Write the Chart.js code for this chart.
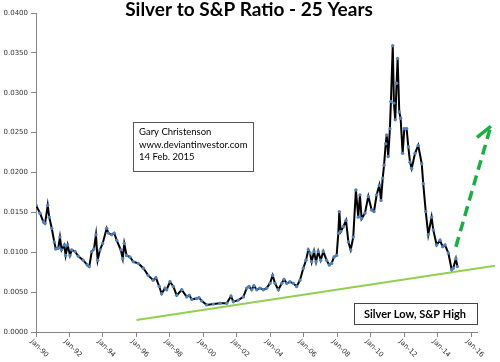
<!DOCTYPE html>
<html>
<head>
<meta charset="utf-8">
<script src="https://cdn.jsdelivr.net/npm/chart.js@4.4.1/dist/chart.umd.min.js"></script>
<style>
  body { margin: 0; background: #fff; }
  #wrap { width: 500px; height: 362px; position: relative; }
</style>
</head>
<body>
<div id="wrap"><canvas id="myChart"></canvas></div>
<script>
// silver / S&P ratio (decimal year, ratio)
var years = [1990.00, 1990.24, 1990.44, 1990.54, 1990.70, 1990.79, 1990.94, 1991.09, 1991.18, 1991.33,
  1991.43, 1991.53, 1991.69, 1991.77, 1991.89, 1992.03, 1992.13, 1992.33, 1992.53, 1992.82,
  1993.06, 1993.18, 1993.33, 1993.46, 1993.58, 1993.68, 1993.82, 1993.98, 1994.22, 1994.32,
  1994.52, 1994.67, 1994.82, 1995.06, 1995.18, 1995.27, 1995.41, 1995.61, 1995.81, 1996.11,
  1996.41, 1996.70, 1997.00, 1997.16, 1997.36, 1997.50, 1997.70, 1997.80, 1998.00, 1998.20,
  1998.40, 1998.70, 1999.00, 1999.15, 1999.30, 1999.59, 1999.73, 1999.89, 2000.19, 2000.59,
  2000.99, 2001.39, 2001.64, 2001.78, 2002.08, 2002.38, 2002.58, 2002.72, 2002.88, 2003.01,
  2003.18, 2003.37, 2003.57, 2003.77, 2003.97, 2004.13, 2004.27, 2004.47, 2004.67, 2004.81,
  2004.97, 2005.16, 2005.36, 2005.56, 2005.76, 2005.96, 2006.12, 2006.26, 2006.36, 2006.46,
  2006.60, 2006.72, 2006.85, 2007.00, 2007.15, 2007.35, 2007.51, 2007.65, 2007.79, 2007.95,
  2008.05, 2008.11, 2008.19, 2008.35, 2008.51, 2008.65, 2008.79, 2008.94, 2009.10, 2009.24,
  2009.34, 2009.44, 2009.64, 2009.84, 2010.04, 2010.18, 2010.34, 2010.50, 2010.60, 2010.70,
  2010.78, 2010.88, 2010.94, 2011.03, 2011.13, 2011.19, 2011.30, 2011.37, 2011.45, 2011.53,
  2011.59, 2011.69, 2011.77, 2011.89, 2011.99, 2012.13, 2012.23, 2012.33, 2012.43, 2012.63,
  2012.82, 2013.03, 2013.12, 2013.27, 2013.42, 2013.62, 2013.72, 2013.92, 2014.12, 2014.28,
  2014.42, 2014.62, 2014.82, 2014.91, 2015.07, 2015.16];
var ratio = [0.0159, 0.0149, 0.0138, 0.0136, 0.0159, 0.0144, 0.0130, 0.0113, 0.0104, 0.0105,
  0.0119, 0.0103, 0.0109, 0.0096, 0.0109, 0.0096, 0.0103, 0.0101, 0.0095, 0.0090,
  0.0084, 0.0082, 0.0101, 0.0104, 0.0122, 0.0090, 0.0103, 0.0111, 0.0130, 0.0124,
  0.0122, 0.0124, 0.0115, 0.0103, 0.0092, 0.0111, 0.0096, 0.0094, 0.0088, 0.0086,
  0.0080, 0.0071, 0.0065, 0.0068, 0.0057, 0.0048, 0.0055, 0.0053, 0.0063, 0.0057,
  0.0046, 0.0053, 0.0044, 0.0046, 0.0041, 0.0042, 0.0043, 0.0039, 0.0034, 0.0035,
  0.0036, 0.0036, 0.0045, 0.0038, 0.0040, 0.0044, 0.0055, 0.0057, 0.0053, 0.0058,
  0.0053, 0.0055, 0.0053, 0.0055, 0.0061, 0.0071, 0.0061, 0.0053, 0.0061, 0.0066,
  0.0061, 0.0063, 0.0061, 0.0057, 0.0065, 0.0080, 0.0090, 0.0103, 0.0099, 0.0088,
  0.0101, 0.0088, 0.0101, 0.0090, 0.0101, 0.0090, 0.0084, 0.0086, 0.0094, 0.0096,
  0.0124, 0.0151, 0.0126, 0.0132, 0.0140, 0.0113, 0.0103, 0.0119, 0.0178, 0.0144,
  0.0172, 0.0142, 0.0149, 0.0170, 0.0153, 0.0151, 0.0172, 0.0184, 0.0165, 0.0193,
  0.0209, 0.0236, 0.0247, 0.0220, 0.0255, 0.0289, 0.0359, 0.0287, 0.0266, 0.0312,
  0.0343, 0.0276, 0.0268, 0.0224, 0.0255, 0.0255, 0.0232, 0.0213, 0.0205, 0.0224,
  0.0234, 0.0211, 0.0186, 0.0151, 0.0122, 0.0144, 0.0128, 0.0109, 0.0115, 0.0107,
  0.0109, 0.0099, 0.0078, 0.0080, 0.0092, 0.0082];

// green support line and dashed arrow
var trendX = [1996.0, 2017.4];
var trendY = [0.0015, 0.0083];
var arrowX = [2015.07, 2017.10];
var arrowY = [0.0107, 0.0254];
var headX = [2016.33, 2017.16, 2017.58];
var headY = [0.0244, 0.0258, 0.0238];

var yTicks = [0, 0.005, 0.01, 0.015, 0.02, 0.025, 0.03, 0.035, 0.04];
var xTicks = [1990, 1992, 1994, 1996, 1998, 2000, 2002, 2004, 2006, 2008, 2010, 2012, 2014, 2016];

var titleText = 'Silver to S&P Ratio - 25 Years';
var noteLines = ['Gary Christenson', 'www.deviantinvestor.com', '14 Feb. 2015'];
var boxText = 'Silver Low, S&P High';

function toPoints(xs, ys) {
    var out = [];
    for (var i = 0; i < xs.length; i++) {
        out.push({x: xs[i], y: ys[i]});
    }
    return out;
}

function xLabel(v) {
    var yy = String(v % 100);
    if (yy.length < 2) yy = '0' + yy;
    return 'Jan-' + yy;
}

var decorPlugin = {
    id: 'decor',
    afterDraw: function(chart) {
        var ctx = chart.ctx;
        var xs = chart.scales.x;
        var bottom = chart.chartArea.bottom;
        ctx.save();
        // rotated date labels
        ctx.fillStyle = '#333';
        ctx.font = '7px "DejaVu Sans"';
        ctx.textAlign = 'left';
        ctx.textBaseline = 'top';
        for (var i = 0; i < xTicks.length; i++) {
            var px = xs.getPixelForValue(xTicks[i]);
            ctx.save();
            ctx.translate(px - 2, bottom + 6);
            ctx.rotate(Math.PI / 4);
            ctx.fillText(xLabel(xTicks[i]), 0, 0);
            ctx.restore();
        }
        // title
        ctx.fillStyle = '#000';
        ctx.font = 'bold 19px Lato';
        ctx.textAlign = 'center';
        ctx.textBaseline = 'top';
        ctx.fillText(titleText, 249, 0);
        // author note
        ctx.fillStyle = '#fff';
        ctx.fillRect(133.5, 122.5, 120, 49);
        ctx.strokeStyle = '#555';
        ctx.lineWidth = 1;
        ctx.strokeRect(133.5, 122.5, 120, 49);
        ctx.fillStyle = '#000';
        ctx.font = '9.5px Lato';
        ctx.textAlign = 'left';
        ctx.textBaseline = 'middle';
        for (var j = 0; j < noteLines.length; j++) {
            ctx.fillText(noteLines[j], 139, 132 + j * 12.5);
        }
        // label box
        ctx.fillStyle = '#fff';
        ctx.fillRect(354.5, 303.5, 123, 21);
        ctx.strokeStyle = '#444';
        ctx.strokeRect(354.5, 303.5, 123, 21);
        ctx.fillStyle = '#000';
        ctx.font = 'bold 11px Lato';
        ctx.textAlign = 'center';
        ctx.fillText(boxText, 415, 314);
        ctx.restore();
    }
};

var ctx = document.getElementById('myChart').getContext('2d');
var myChart = new Chart(ctx, {
    type: 'line',
    data: {
        datasets: [{
            data: toPoints(trendX, trendY),
            borderColor: '#92D050',
            borderWidth: 2,
            pointRadius: 0,
            clip: false
        }, {
            data: toPoints(years, ratio),
            borderColor: '#000',
            borderWidth: 2,
            pointRadius: 1.7,
            pointBackgroundColor: '#4F81BD',
            pointBorderWidth: 0,
            tension: 0
        }, {
            data: toPoints(arrowX, arrowY),
            borderColor: '#19B043',
            borderWidth: 3.5,
            borderDash: [10, 6],
            pointRadius: 0,
            clip: false
        }, {
            data: toPoints(headX, headY),
            borderColor: '#19B043',
            borderWidth: 3.5,
            pointRadius: 0,
            clip: false
        }]
    },
    options: {
        responsive: true,
        maintainAspectRatio: false,
        animation: false,
        layout: { padding: { top: 13, right: 23, left: 0, bottom: 0 } },
        plugins: {
            legend: { display: false },
            tooltip: { enabled: false }
        },
        scales: {
            x: {
                type: 'linear',
                min: 1990,
                max: 2016.33,
                afterFit: function(scale) { scale.height = 30; },
                ticks: { display: false, stepSize: 2, includeBounds: false },
                afterBuildTicks: function(scale) {
                    scale.ticks = xTicks.map(function(v) { return {value: v}; });
                },
                grid: { drawOnChartArea: false, tickLength: 5, color: '#868686' },
                border: { color: '#868686', width: 1 }
            },
            y: {
                min: 0,
                max: 0.04,
                afterFit: function(scale) { scale.width = 36; },
                afterBuildTicks: function(scale) {
                    scale.ticks = yTicks.map(function(v) { return {value: v}; });
                },
                ticks: {
                    padding: 3,
                    color: '#333',
                    font: { family: 'DejaVu Sans', size: 7 },
                    callback: function(v) { return Number(v).toFixed(4); }
                },
                grid: { drawOnChartArea: false, tickLength: 5, color: '#868686' },
                border: { color: '#868686', width: 1 }
            }
        }
    },
    plugins: [decorPlugin]
});
</script>
</body>
</html>
